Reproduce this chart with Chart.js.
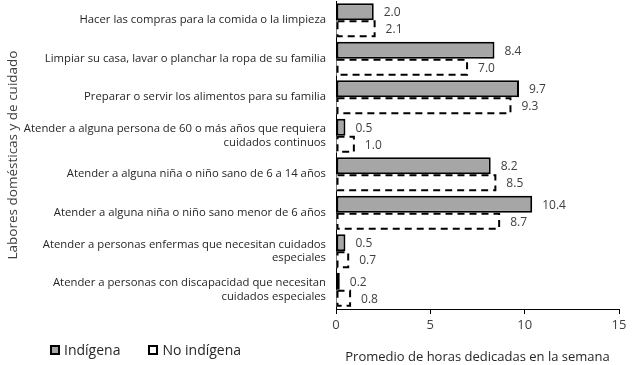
<!DOCTYPE html>
<html>
<head>
<meta charset="utf-8">
<script src="https://cdn.jsdelivr.net/npm/chart.js@4/dist/chart.umd.min.js"></script>
<style>
  html, body { margin:0; padding:0; background:#fff; }
  #wrap { position:relative; width:633px; height:365px; }
  #legend { position:absolute; left:50px; top:340px; font:14px 'Open Sans', sans-serif; line-height:19px; color:#262626; display:flex; align-items:center; }
  #legend .box { display:inline-block; width:6px; height:6px; margin-right:4px; }
  #legend .item { display:flex; align-items:center; margin-right:28px; }
</style>
</head>
<body>
<div id="wrap">
  <canvas id="c" width="633" height="365"></canvas>
  <div id="legend"></div>
</div>
<script>
// categories, top to bottom
const categories = [
  'Hacer las compras para la comida o la limpieza',
  'Limpiar su casa, lavar o planchar la ropa de su familia',
  'Preparar o servir los alimentos para su familia',
  ['Atender a alguna persona de 60 o más años que requiera', 'cuidados continuos'],
  'Atender a alguna niña o niño sano de 6 a 14 años',
  'Atender a alguna niña o niño sano menor de 6 años',
  ['Atender a personas enfermas que necesitan cuidados', 'especiales'],
  ['Atender a personas con discapacidad que necesitan', 'cuidados especiales']
];
const indigena   = [2.0, 8.4, 9.7, 0.5, 8.2, 10.4, 0.5, 0.2];
const noIndigena = [2.1, 7.0, 9.3, 1.0, 8.5, 8.7, 0.7, 0.8];
const seriesNames = ['Indígena', 'No indígena'];
const xTicks = [0, 5, 10, 15];

// dashed outline for "No indígena" and value labels next to bars
const barExtras = {
  id: 'barExtras',
  afterDatasetsDraw(chart) {
    const ctx = chart.ctx;
    ctx.save();
    chart.data.datasets.forEach((ds, i) => {
      const meta = chart.getDatasetMeta(i);
      meta.data.forEach((bar, j) => {
        const p = bar.getProps(['x', 'y', 'base', 'height'], true);
        if (i === 1) {
          ctx.setLineDash([7, 5]);
          ctx.lineWidth = 2;
          ctx.strokeStyle = '#000';
          ctx.strokeRect(p.base + 1, p.y - p.height / 2 + 1, p.x - p.base - 2, p.height - 2);
          ctx.setLineDash([]);
        }
        ctx.fillStyle = '#404040';
        ctx.font = '12px "Open Sans", sans-serif';
        ctx.textAlign = 'left';
        ctx.textBaseline = 'middle';
        ctx.fillText(ds.data[j].toFixed(1), p.x + 10, p.y + 1);
      });
    });
    ctx.restore();
  }
};

new Chart(document.getElementById('c'), {
  type: 'bar',
  data: {
    labels: categories,
    datasets: [
      { label: seriesNames[0], data: indigena, backgroundColor: '#a6a6a6', borderColor: '#000', borderWidth: 2, borderSkipped: false },
      { label: seriesNames[1], data: noIndigena, backgroundColor: '#fff', borderWidth: 0 }
    ]
  },
  options: {
    indexAxis: 'y',
    responsive: false,
    animation: false,
    layout: { padding: { top: 1, right: 14, bottom: 0, left: 0 } },
    datasets: { bar: { categoryPercentage: 0.88, barPercentage: 1 } },
    plugins: { legend: { display: false }, tooltip: { enabled: false } },
    scales: {
      x: {
        min: 0, max: 15,
        afterBuildTicks: s => { s.ticks = xTicks.map(v => ({ value: v })); },
        afterFit: s => { s.height = 56; s.paddingLeft = 0; s.paddingRight = 0; },
        grid: { drawOnChartArea: false, drawTicks: true, tickLength: 5, color: '#000' },
        border: { color: '#000', width: 1 },
        ticks: { color: '#404040', font: { family: 'Open Sans', size: 13 }, padding: 3 },
        title: { display: true, text: 'Promedio de horas dedicadas en la semana', color: '#262626',
                 font: { family: 'Open Sans', size: 13 }, padding: { top: 10, bottom: 0 } }
      },
      y: {
        grid: { display: false, drawTicks: false },
        border: { display: true, color: '#000', width: 1 },
        afterFit: s => { s.width = 336; s.paddingTop = 0; s.paddingBottom = 0; },
        ticks: { color: '#262626', font: { family: 'Open Sans', size: 11.3 }, padding: 10 },
        title: { display: true, text: 'Labores domésticas y de cuidado', color: '#404040',
                 font: { family: 'Open Sans', size: 13.5 }, padding: { top: 5, bottom: 0 } }
      }
    }
  },
  plugins: [barExtras]
});

// legend below the category labels
const legend = document.getElementById('legend');
legend.innerHTML =
  '<span class="item"><span class="box" style="background:#a6a6a6;border:2px solid #000"></span>' + seriesNames[0] + '</span>' +
  '<span class="item"><span class="box" style="background:#fff;border:2px dashed #000"></span>' + seriesNames[1] + '</span>';
</script>
</body>
</html>
